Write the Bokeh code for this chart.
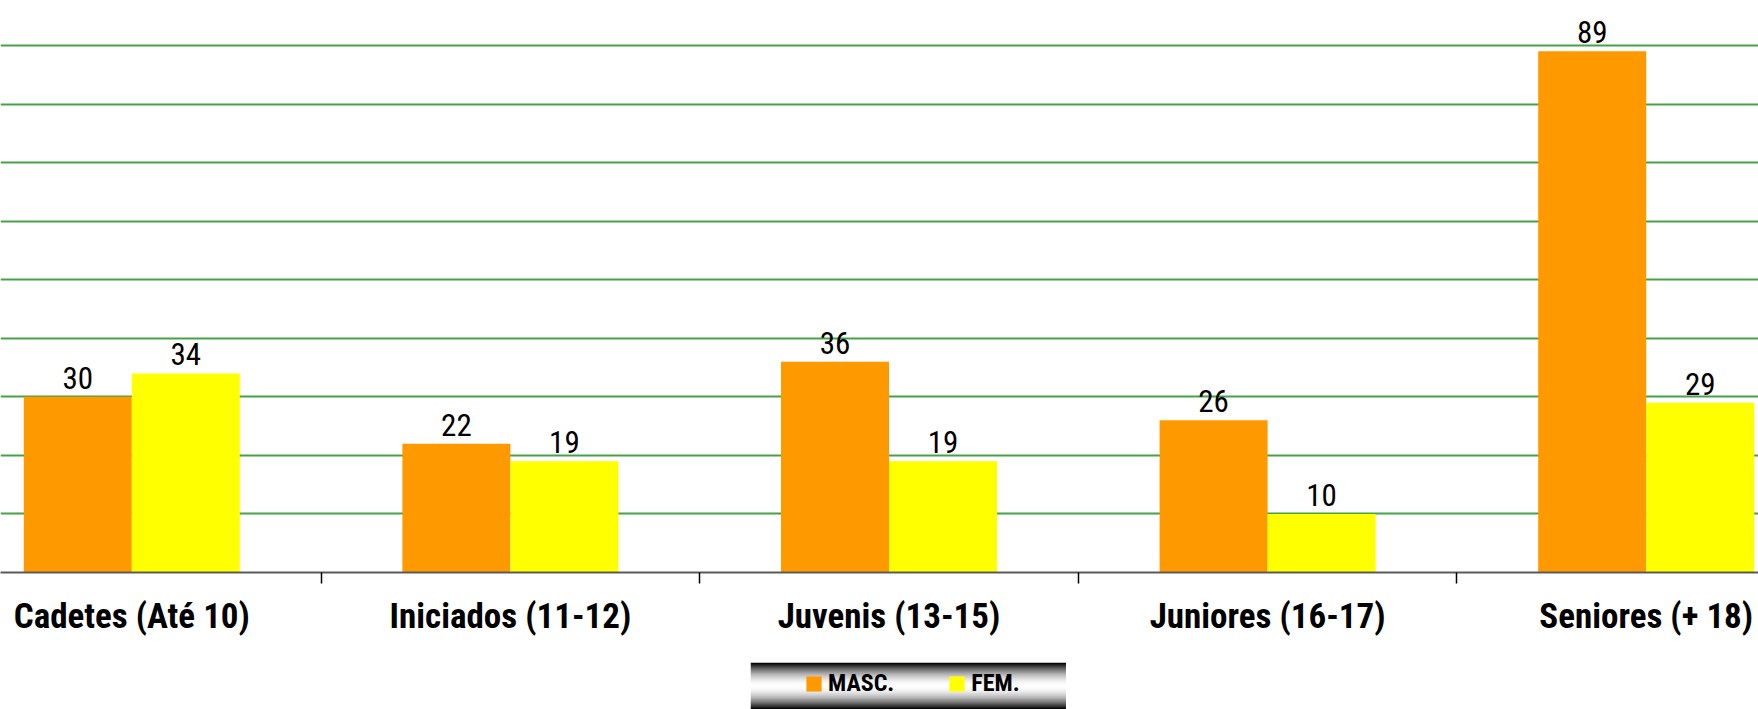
import numpy as np
from bokeh.plotting import figure
from bokeh.models import (Range1d, FixedTicker, Legend, LegendItem, Spacer,
                          ColumnDataSource, CustomJSTickFormatter)
from bokeh.layouts import column, row
from bokeh.core.properties import value
from bokeh.embed import file_html
from bokeh.resources import INLINE

# ---- data ----
categories = ["Cadetes (Até 10)", "Iniciados (11-12)", "Juvenis (13-15)",
              "Juniores (16-17)", "Seniores (+ 18)"]
masc = [30, 22, 36, 26, 89]
fem = [34, 19, 19, 10, 29]
series_names = ["MASC.", "FEM."]
grid_ticks = [10, 20, 30, 40, 50, 60, 70, 80, 90]

FONT = "Roboto Condensed, DejaVu Sans Condensed, sans-serif"
ORANGE = "#ff9900"
YELLOW = "#ffff00"
GRID = "#46a246"

idx = list(range(len(categories)))
BW = 0.2853
src = ColumnDataSource(dict(
    xm=[i - BW / 2 for i in idx], xf=[i + BW / 2 for i in idx],
    masc=masc, fem=fem,
    lm=[str(v) for v in masc], lf=[str(v) for v in fem]))

W = 1758
MAIN_H = 662
p = figure(width=W, height=MAIN_H,
           x_range=Range1d(-0.3468, 4.2966), y_range=Range1d(0, 97.68),
           output_backend="svg", toolbar_location=None,
           min_border_left=0, min_border_right=0, min_border_top=0,
           min_border_bottom=90)
p.outline_line_color = None
p.background_fill_color = "white"
p.border_fill_color = "white"

p.vbar(x="xm", top="masc", width=BW, source=src, fill_color=ORANGE, line_color=None)
p.vbar(x="xf", top="fem", width=BW, source=src, fill_color=YELLOW, line_color=None)

for xcol, ycol, tcol in (("xm", "masc", "lm"), ("xf", "fem", "lf")):
    p.text(x=xcol, y=ycol, text=tcol, source=src, text_font=value(FONT),
           text_font_size="31px", text_align="center", text_baseline="alphabetic",
           y_offset=-19, text_color="black")

p.xaxis.ticker = FixedTicker(ticks=idx, minor_ticks=[i + 0.5 for i in idx[:-1]])
p.xaxis.formatter = CustomJSTickFormatter(args=dict(labels=categories),
                                          code="return labels[Math.round(tick)] || '';")
p.xaxis.major_tick_out = 0
p.xaxis.major_tick_in = 0
p.xaxis.minor_tick_out = 11
p.xaxis.minor_tick_in = 0
p.xaxis.minor_tick_line_color = "black"
p.xaxis.minor_tick_line_width = 1.5
p.xaxis.axis_line_color = "#5a5a5a"
p.xaxis.axis_line_width = 2
p.xaxis.major_label_text_font = FONT
p.xaxis.major_label_text_font_size = "35px"
p.xaxis.major_label_text_font_style = "bold"
p.xaxis.major_label_text_color = "black"
p.xaxis.major_label_standoff = 12

p.yaxis.visible = False
p.xgrid.visible = False
p.ygrid.ticker = FixedTicker(ticks=grid_ticks)
p.ygrid.grid_line_color = GRID
p.ygrid.grid_line_width = 1.8

# ---- legend box with gradient ----
LW = 316
LH = 709 - MAIN_H
leg = figure(width=LW, height=LH, x_range=Range1d(0, LW), y_range=Range1d(0, LH),
             output_backend="svg", toolbar_location=None, min_border=0)
leg.axis.visible = False
leg.grid.visible = False
leg.outline_line_color = None

t = np.linspace(-1, 1, LH)
g = np.clip(255 * (1 - np.abs(t) ** 1.8), 0, 255).astype(np.uint8)
img = np.zeros((LH, 1), dtype=np.uint32)
view = img.view(dtype=np.uint8).reshape((LH, 1, 4))
view[:, 0, 0] = g
view[:, 0, 1] = g
view[:, 0, 2] = g
view[:, 0, 3] = 255
leg.image_rgba(image=[img], x=0, y=0, dw=LW, dh=LH)

rm = leg.quad(left=[-20], right=[-10], bottom=[-20], top=[-10], fill_color=ORANGE, line_color=None)
rf = leg.quad(left=[-20], right=[-10], bottom=[-20], top=[-10], fill_color=YELLOW, line_color=None)
legend = Legend(items=[LegendItem(label=series_names[0], renderers=[rm]),
                       LegendItem(label=series_names[1], renderers=[rf])],
                orientation="horizontal", location=(54, 12),
                glyph_width=19, glyph_height=19, label_height=19,
                label_standoff=5, spacing=53, padding=0, margin=0,
                background_fill_alpha=0, border_line_alpha=0,
                label_text_font=FONT, label_text_font_style="bold",
                label_text_font_size="24px", label_text_color="black")
leg.add_layout(legend)

layout = column(p, row(Spacer(width=750, height=LH), leg))
open("out.html", "w").write(file_html(layout, INLINE))
